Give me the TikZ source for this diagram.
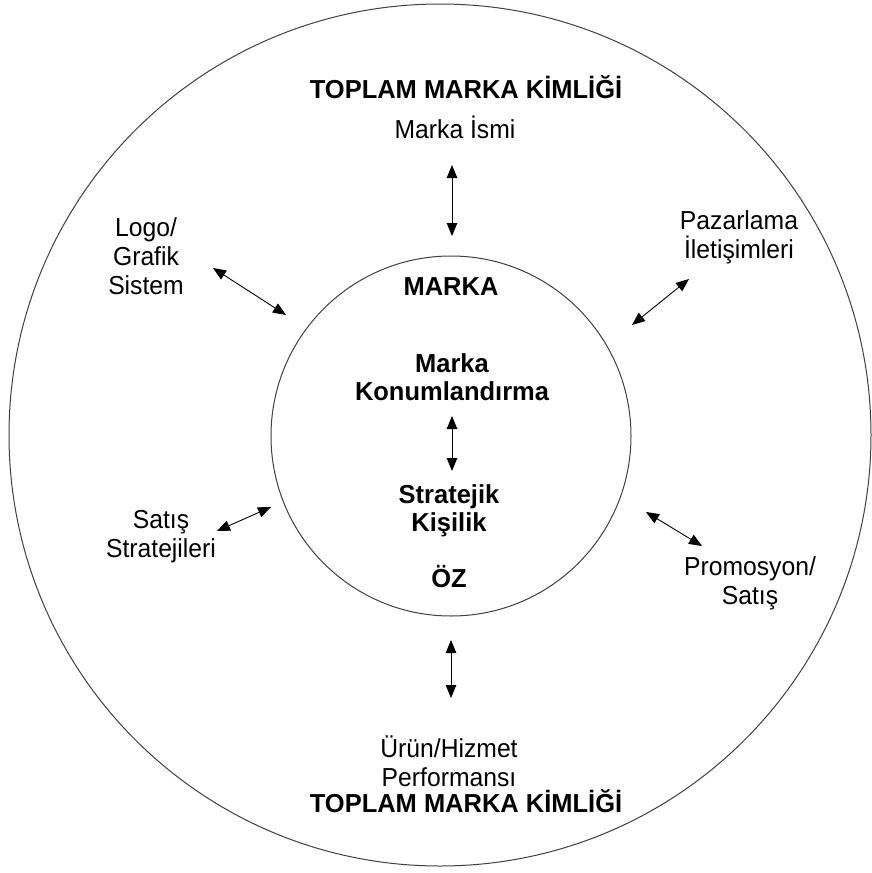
\documentclass[tikz,border=0pt]{standalone}
\usepackage{fontspec}
\setmainfont{Liberation Sans}[UprightFeatures={FakeStretch=0.95},BoldFeatures={FakeStretch=0.98}]
\usetikzlibrary{arrows.meta}
\begin{document}
\begin{tikzpicture}[x=1pt,y=-1pt,
  ring/.style={draw=black!75,line width=1pt},
  plain/.style={align=center,inner sep=0pt,font=\fontsize{26}{29}\selectfont},
  heavy/.style={align=center,inner sep=0pt,font=\fontsize{26}{28}\selectfont\bfseries},
  link/.style={line width=0.9pt,{Triangle[length=13pt,width=10.5pt]}-{Triangle[length=13pt,width=10.5pt]}}]
\useasboundingbox (0,0) rectangle (872,873);
\fill[white] (0,0) rectangle (872,873);

% outer and inner rings
\node[ring,circle,minimum size=862pt,inner sep=0pt] (outer) at (440,435) {};
\node[ring,circle,minimum size=360pt,inner sep=0pt] (inner) at (451,436) {};

% outer ring labels
\node[heavy] (toptitle) at (466,87) {TOPLAM MARKA KİMLİĞİ};
\node[heavy] (bottitle) at (466,801) {TOPLAM MARKA KİMLİĞİ};
\node[plain] (isim) at (455,127) {Marka İsmi};
\node[plain] (logo) at (146,256) {Logo/\\Grafik\\Sistem};
\node[plain] (pazar) at (739,237) {Pazarlama\\İletişimleri};
\node[plain] (satis) at (161,537) {Satış\\Stratejileri};
\node[plain] (promo) at (750,583) {Promosyon/\\Satış};
\node[plain] (urun) at (449,761) {Ürün/Hizmet\\Performansı};

% inner ring labels
\node[heavy] (marka) at (451,287) {MARKA};
\node[heavy] (konum) at (452,377) {Marka\\Konumlandırma};
\node[heavy] (kisilik) at (449,511) {Stratejik\\Kişilik};
\node[heavy] (oz) at (449,577) {ÖZ};

% arrow end points
\coordinate (isimA) at (452,165);  \coordinate (isimB) at (452,236);
\coordinate (logoA) at (213,268);  \coordinate (logoB) at (286,315);
\coordinate (pazarA) at (689,279); \coordinate (pazarB) at (632,325);
\coordinate (satisA) at (217,531); \coordinate (satisB) at (271,507);
\coordinate (promoA) at (646,512); \coordinate (promoB) at (702,546);
\coordinate (urunA) at (451,640);  \coordinate (urunB) at (451,698);
\coordinate (coreA) at (452,416);  \coordinate (coreB) at (452,471);

% double-headed links
\draw[link] (isimA) -- (isimB);
\draw[link] (logoA) -- (logoB);
\draw[link] (pazarA) -- (pazarB);
\draw[link] (satisA) -- (satisB);
\draw[link] (promoA) -- (promoB);
\draw[link] (urunA) -- (urunB);
\draw[link] (coreA) -- (coreB);
\end{tikzpicture}
\end{document}
